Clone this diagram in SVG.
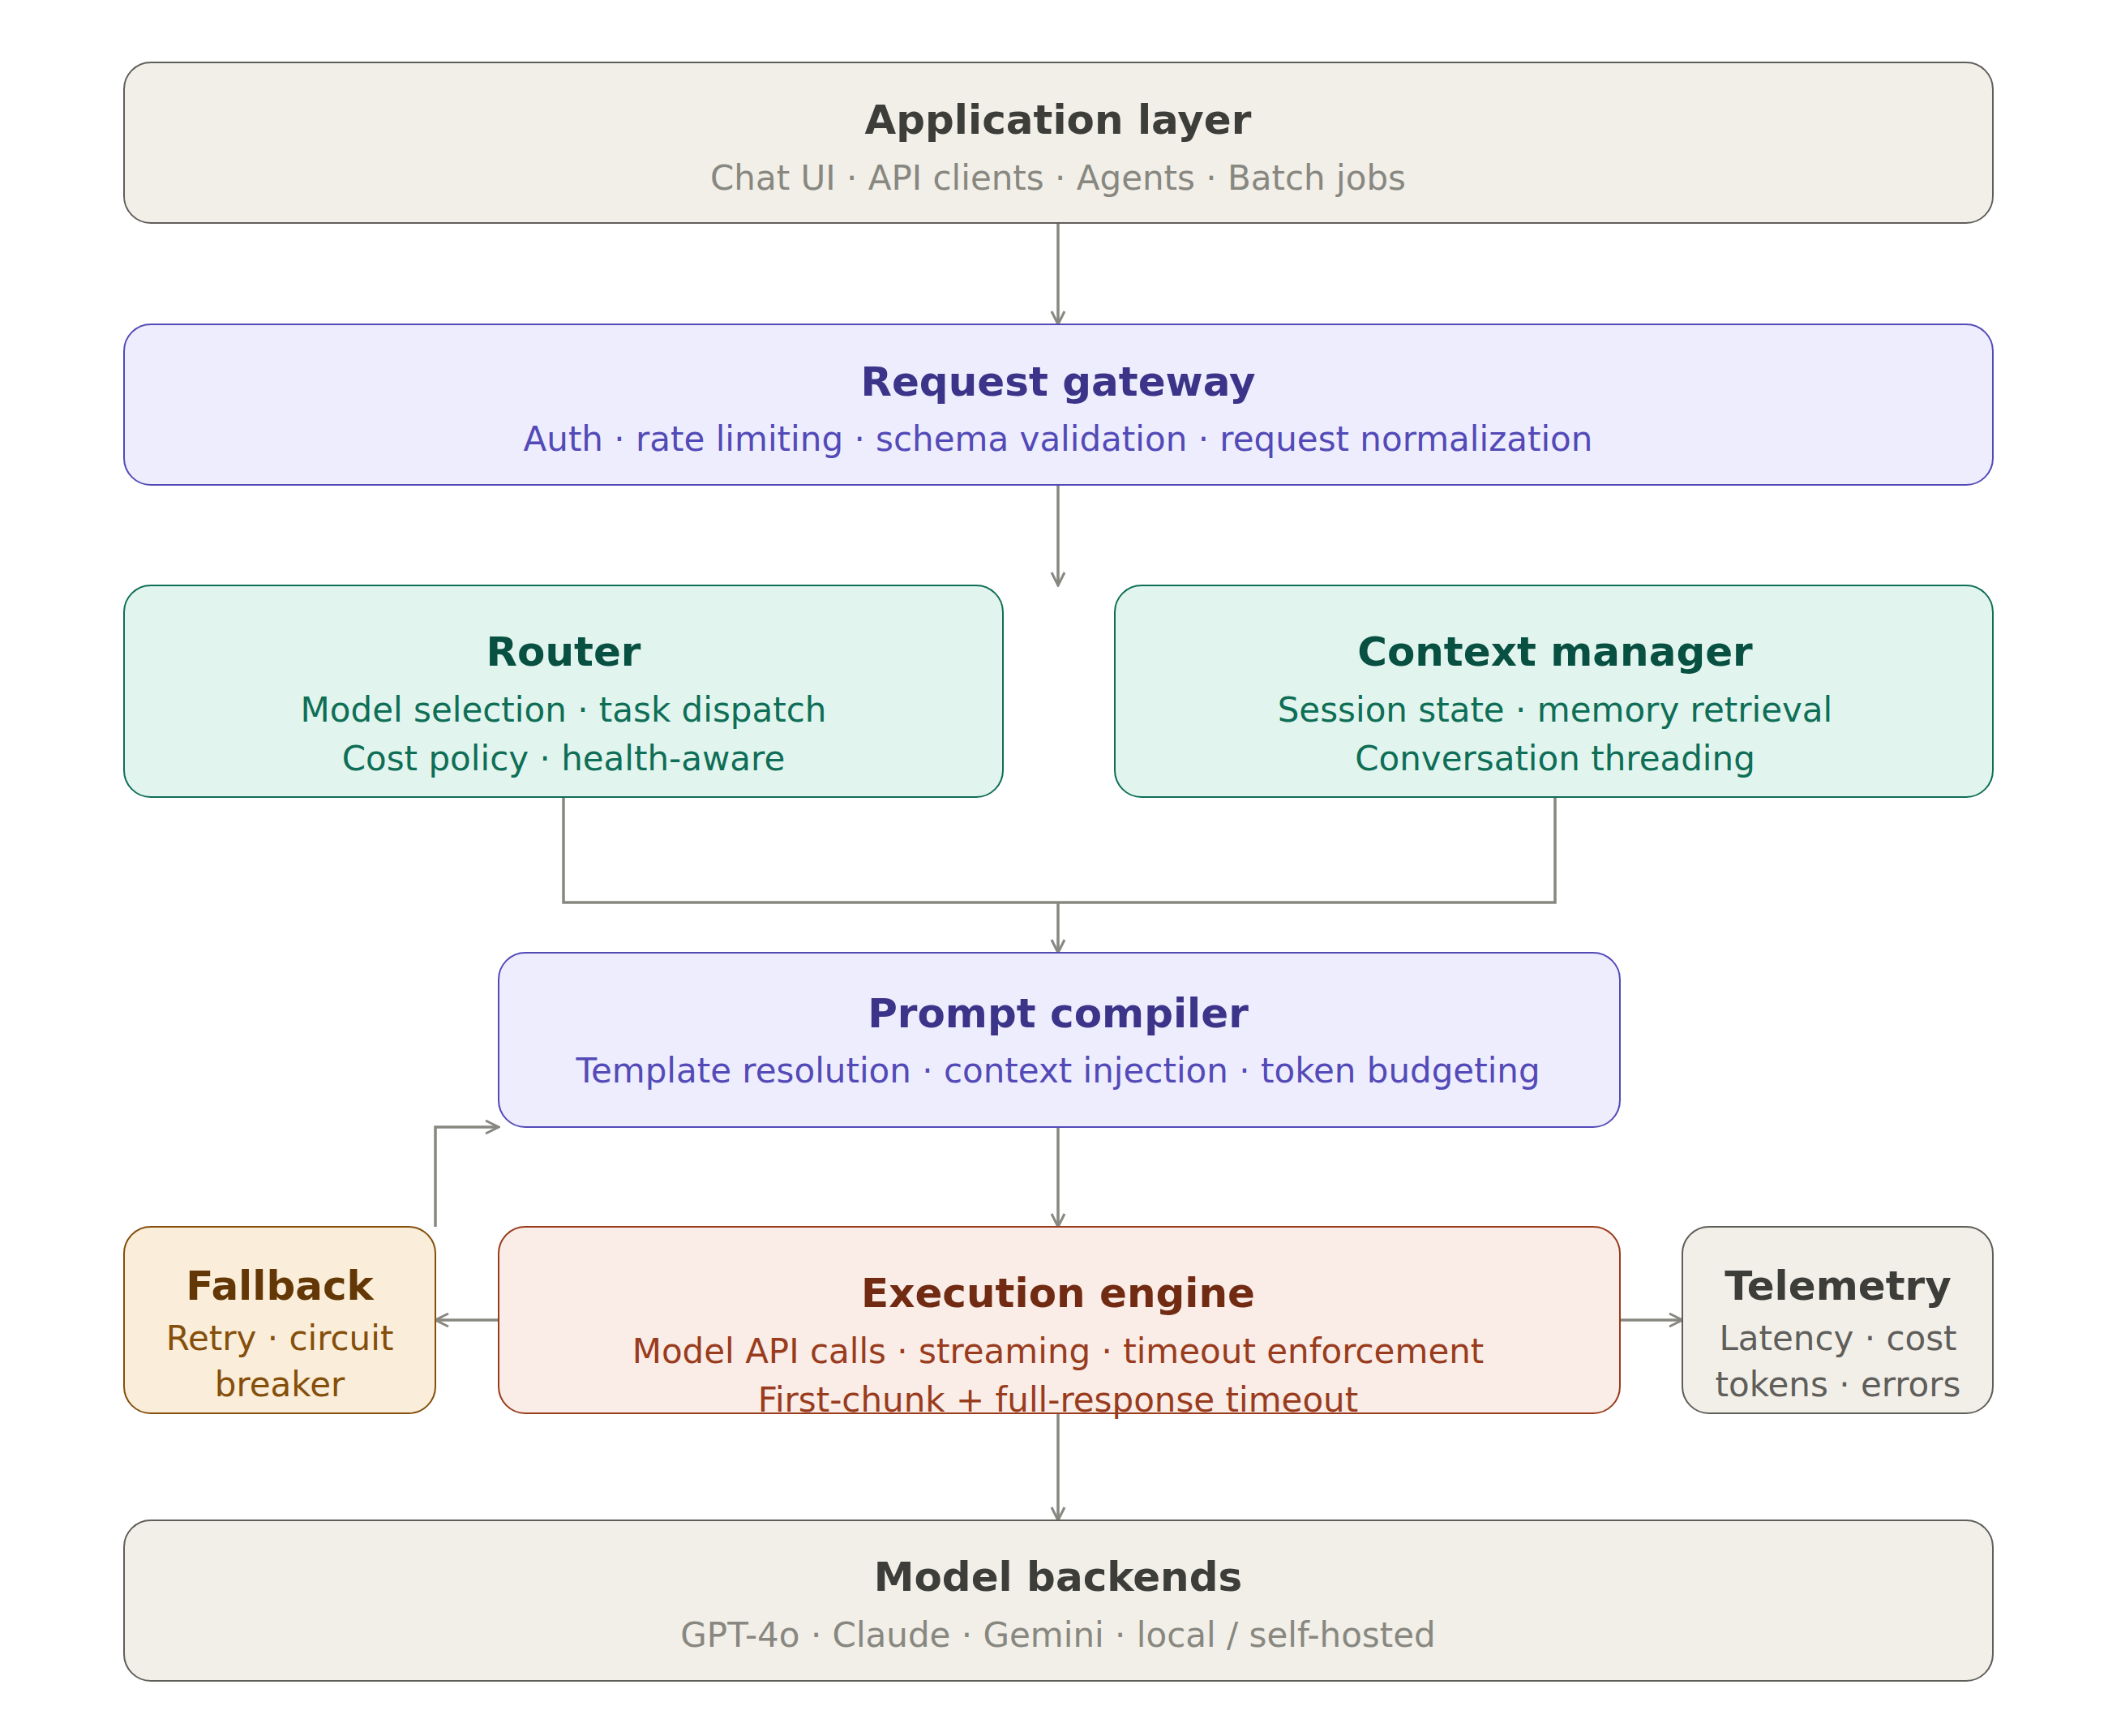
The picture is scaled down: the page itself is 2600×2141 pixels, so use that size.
<svg xmlns="http://www.w3.org/2000/svg" width="2600" height="2141" viewBox="0 0 2600 2141">
<style>
text{font-family:"DejaVu Sans","Noto Sans",sans-serif;text-anchor:middle}
.t{font-size:50px;font-weight:bold}
.s{font-size:42px}
.c{fill:none;stroke:#888780;stroke-width:3.5}
.gray rect{fill:#f1efe8;stroke:#5f5e5a;stroke-width:2}.gray .t{fill:#3d3d3a}.gray .s{fill:#888780}
.pur rect{fill:#eeedfe;stroke:#534ab7;stroke-width:2}.pur .t{fill:#3c3489}.pur .s{fill:#534ab7}
.grn rect{fill:#e1f5ee;stroke:#0f6e56;stroke-width:2}.grn .t{fill:#085041}.grn .s{fill:#0f6e56}
.org rect{fill:#faeeda;stroke:#854f0b;stroke-width:2}.org .t{fill:#633806}.org .s{fill:#854f0b}
.red rect{fill:#faece7;stroke:#993c1d;stroke-width:2}.red .t{fill:#712b13}.red .s{fill:#993c1d}
.tel rect{fill:#f1efe8;stroke:#5f5e5a;stroke-width:2}.tel .t{fill:#3d3d3a}.tel .s{fill:#5f5e5a}
</style>
<defs><marker id="a" viewBox="0 0 10 10" refX="9" refY="5" markerWidth="7" markerHeight="7" orient="auto-start-reverse" markerUnits="userSpaceOnUse"><path d="M1 1L9 5L1 9" fill="none" stroke="#888780" stroke-width="1.2"/></marker></defs>
<defs><marker id="m" viewBox="0 0 20 20" refX="18" refY="10" markerWidth="20" markerHeight="20" orient="auto" markerUnits="userSpaceOnUse"><path d="M2 2L18 10L2 18" fill="none" stroke="#888780" stroke-width="3"/></marker></defs>
<g id="connectors">
<path class="c" d="M1305 275V400" marker-end="url(#m)"/>
<path class="c" d="M1305 598V722" marker-end="url(#m)"/>
<path class="c" d="M695 983V1113H1918V983"/>
<path class="c" d="M1305 1113V1175" marker-end="url(#m)"/>
<path class="c" d="M1305 1390V1513" marker-end="url(#m)"/>
<path class="c" d="M615 1628H537" marker-end="url(#m)"/>
<path class="c" d="M1998 1628H2075" marker-end="url(#m)"/>
<path class="c" d="M537 1513V1390H615" marker-end="url(#m)"/>
<path class="c" d="M1305 1743V1875" marker-end="url(#m)"/>
</g>
<g id="app" class="gray"><rect x="153" y="77" width="2305" height="198" rx="33"/><text class="t" x="1305" y="165">Application layer</text><text class="s" x="1305" y="234">Chat UI · API clients · Agents · Batch jobs</text></g>
<g id="gateway" class="pur"><rect x="153" y="400" width="2305" height="198" rx="33"/><text class="t" x="1305" y="488">Request gateway</text><text class="s" x="1305" y="556">Auth · rate limiting · schema validation · request normalization</text></g>
<g id="router" class="grn"><rect x="153" y="722" width="1084" height="261" rx="33"/><text class="t" x="695" y="821">Router</text><text class="s" x="695" y="890">Model selection · task dispatch</text><text class="s" x="695" y="950">Cost policy · health-aware</text></g>
<g id="context" class="grn"><rect x="1375" y="722" width="1083" height="261" rx="33"/><text class="t" x="1918" y="821">Context manager</text><text class="s" x="1918" y="890">Session state · memory retrieval</text><text class="s" x="1918" y="950">Conversation threading</text></g>
<g id="prompt" class="pur"><rect x="615" y="1175" width="1383" height="215" rx="33"/><text class="t" x="1305" y="1267">Prompt compiler</text><text class="s" x="1305" y="1335">Template resolution · context injection · token budgeting</text></g>
<g id="fallback" class="org"><rect x="153" y="1513" width="384" height="230" rx="33"/><text class="t" x="345" y="1603">Fallback</text><text class="s" x="345" y="1665">Retry · circuit</text><text class="s" x="345" y="1722">breaker</text></g>
<g id="exec" class="red"><rect x="615" y="1513" width="1383" height="230" rx="33"/><text class="t" x="1305" y="1612">Execution engine</text><text class="s" x="1305" y="1681">Model API calls · streaming · timeout enforcement</text><text class="s" x="1305" y="1741">First-chunk + full-response timeout</text></g>
<g id="telemetry" class="tel"><rect x="2075" y="1513" width="383" height="230" rx="33"/><text class="t" x="2267" y="1603">Telemetry</text><text class="s" x="2267" y="1665">Latency · cost</text><text class="s" x="2267" y="1722">tokens · errors</text></g>
<g id="backends" class="gray"><rect x="153" y="1875" width="2305" height="198" rx="33"/><text class="t" x="1305" y="1962">Model backends</text><text class="s" x="1305" y="2031">GPT-4o · Claude · Gemini · local / self-hosted</text></g>
</svg>
